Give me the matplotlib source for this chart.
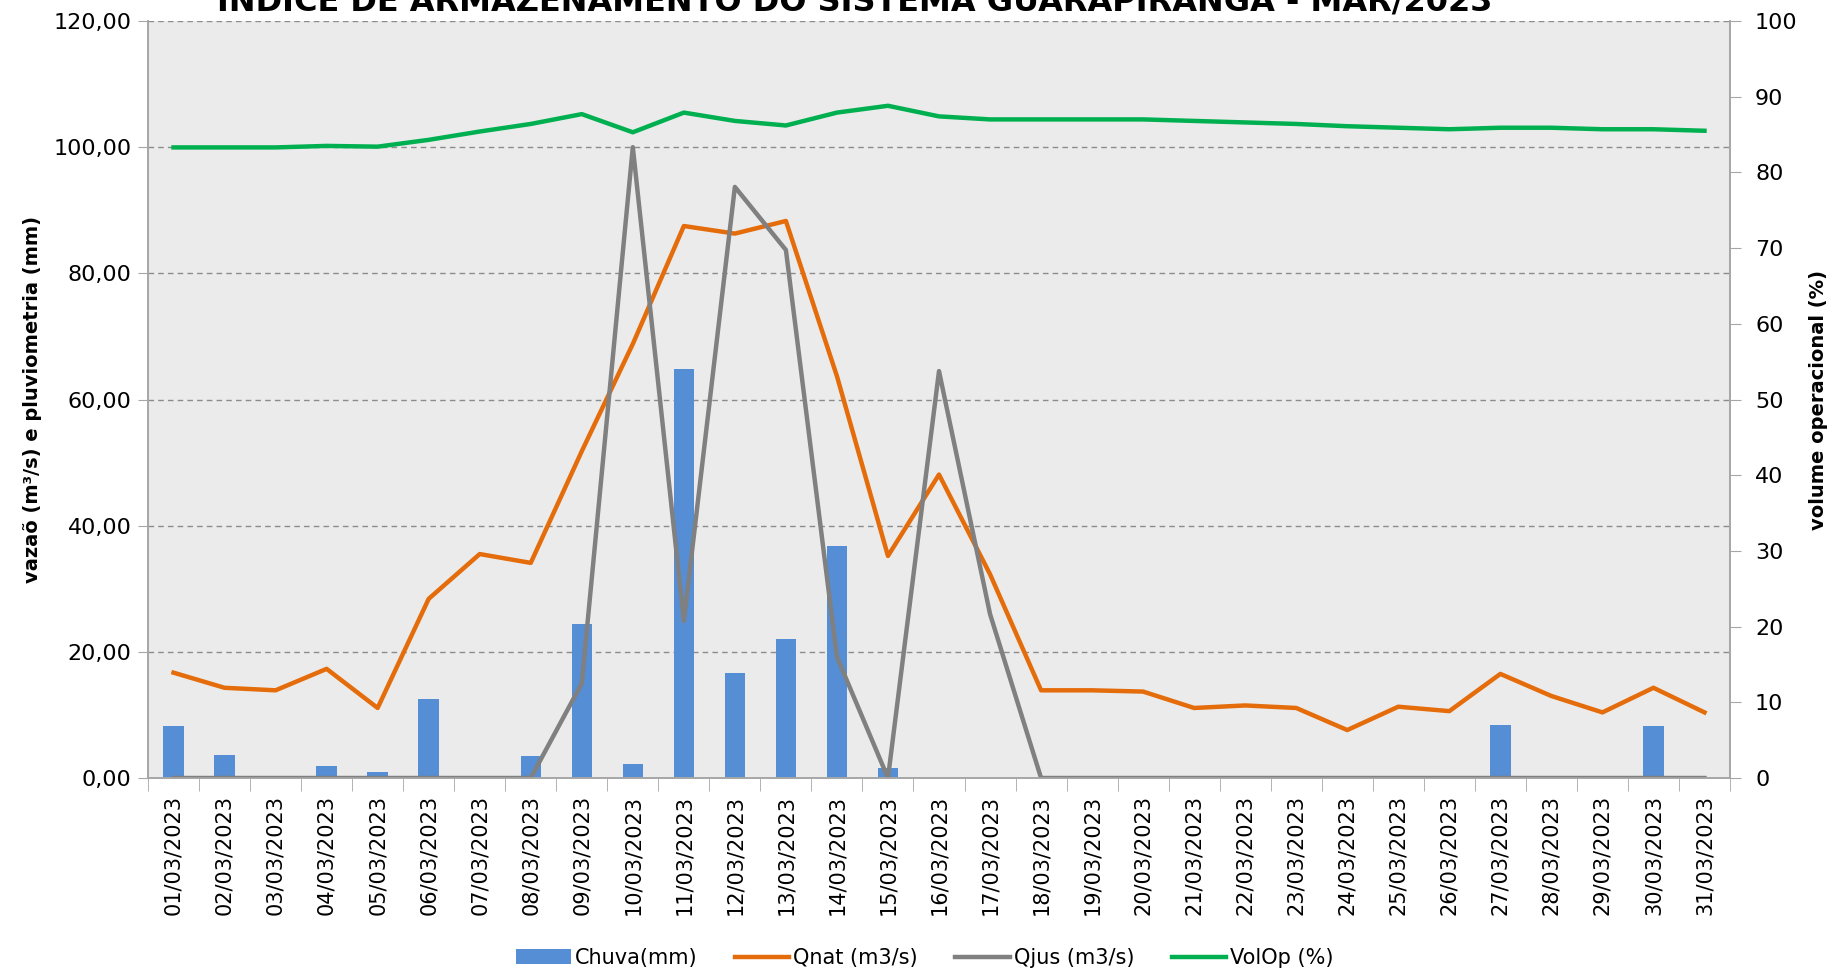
import numpy as np
import matplotlib
matplotlib.use('Agg')
from matplotlib import pyplot as plt
from matplotlib.ticker import FuncFormatter, MultipleLocator, FixedLocator, NullFormatter


# data (Guarapiranga, March 2023)
dias = [f"{d:02d}/03/2023" for d in range(1, 32)]
chuva = [8.2, 3.7, 0, 1.9, 0.9, 12.6, 0, 3.5, 24.4, 2.2,
         64.9, 16.7, 22.0, 36.7, 1.6, 0, 0, 0, 0, 0,
         0, 0, 0, 0, 0, 0, 8.4, 0, 0, 8.2, 0]
qnat = [16.7, 14.3, 13.9, 17.3, 11.1, 28.4, 35.5, 34.1, 51.8, 68.8,
        87.5, 86.3, 88.3, 63.7, 35.2, 48.1, 32.3, 13.9, 13.9, 13.7,
        11.1, 11.5, 11.1, 7.6, 11.3, 10.6, 16.5, 13.0, 10.4, 14.3, 10.4]
qjus = [0, 0, 0, 0, 0, 0, 0, 0, 15.0, 100.0,
        24.9, 93.7, 83.7, 19.2, 0, 64.5, 26.0, 0, 0, 0,
        0, 0, 0, 0, 0, 0, 0, 0, 0, 0, 0]
volop = [83.3, 83.3, 83.3, 83.5, 83.4, 84.3, 85.4, 86.4, 87.7, 85.3,
         87.9, 86.8, 86.2, 87.9, 88.8, 87.4, 87.0, 87.0, 87.0, 87.0,
         86.8, 86.6, 86.4, 86.1, 85.9, 85.7, 85.9, 85.9, 85.7, 85.7, 85.5]

x = np.arange(len(dias))
axis_grey = '#A6A6A6'

fig = plt.figure(figsize=(18.37, 9.74), dpi=100)
ax = fig.add_axes([148 / 1837, 1 - 778 / 974, (1730 - 148) / 1837, (778 - 21) / 974])
ax2 = ax.twinx()

ax.set_facecolor('#EBEBEB')
ax.set_axisbelow(True)

bars = ax.bar(x, chuva, width=0.4, color='#558ED5', label='Chuva(mm)', zorder=2)
l1, = ax.plot(x, qnat, color='#E46C0A', lw=3.2, label='Qnat (m3/s)', zorder=3)
l2, = ax.plot(x, qjus, color='#808080', lw=3.2, label='Qjus (m3/s)', zorder=4)
l3, = ax2.plot(x, volop, color='#00B050', lw=3.2, label='VolOp (%)')

# left axis
ax.set_xlim(-0.5, len(dias) - 0.5)
ax.set_ylim(0, 120)
ax.yaxis.set_major_locator(MultipleLocator(20))
ax.yaxis.set_major_formatter(FuncFormatter(lambda v, p: f"{v:.2f}".replace('.', ',')))
ax.grid(axis='y', color='#8C8C8C', ls=(0, (4, 3)), lw=1.0)
ax.tick_params(axis='y', labelsize=16, length=7, color=axis_grey, pad=5)
ax.set_ylabel('vazaõ (m³/s) e pluviometria (mm)', fontsize=14, fontweight='bold', labelpad=8)

# right axis
ax2.set_ylim(0, 100)
ax2.yaxis.set_major_locator(MultipleLocator(10))
ax2.tick_params(axis='y', labelsize=16, length=8, color=axis_grey, pad=10)
ax2.set_ylabel('volume operacional (%)', fontsize=14, fontweight='bold', labelpad=8)

# x axis: labels centred on days, tick marks between categories
ax.set_xticks(x)
ax.set_xticklabels(dias, rotation=90, fontsize=15)
ax.tick_params(axis='x', which='major', length=0, pad=12)
ax.xaxis.set_minor_locator(FixedLocator(np.arange(-0.5, len(dias), 1)))
ax.xaxis.set_minor_formatter(NullFormatter())
ax.tick_params(axis='x', which='minor', length=9, color=axis_grey)

for a in (ax, ax2):
    a.spines['top'].set_visible(False)
    for s in ('left', 'right', 'bottom'):
        a.spines[s].set_color(axis_grey)
        a.spines[s].set_linewidth(1.2)

fig.text(855 / 1837, 1 - 11 / 974,
         'ÍNDICE DE ARMAZENAMENTO DO SISTEMA GUARAPIRANGA - MAR/2023',
         ha='center', va='baseline', fontsize=23, fontweight='bold')

fig.legend([bars, l1, l2, l3], ['Chuva(mm)', 'Qnat (m3/s)', 'Qjus (m3/s)', 'VolOp (%)'],
           loc='center', bbox_to_anchor=(925 / 1837, 1 - 958 / 974), ncol=4,
           frameon=False, fontsize=15,
           handlelength=2.6, columnspacing=1.8, handletextpad=0.2)

fig.savefig('out.png', dpi=100)
